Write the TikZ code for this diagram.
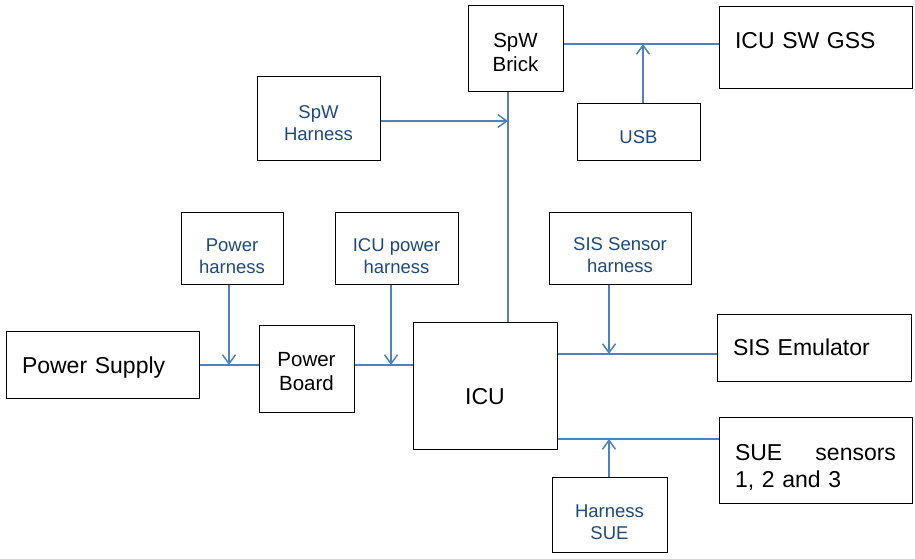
\documentclass[tikz,border=0pt]{standalone}
\usepackage{fontspec}
\setmainfont{Liberation Sans}
\usepackage{tikz}
\usetikzlibrary{arrows.meta, positioning, calc}
\definecolor{linkblue}{RGB}{79,129,189}
\definecolor{textblue}{RGB}{31,73,125}
\newcommand{\nudge}[2]{\raisebox{#1}[\height][\depth]{#2}}
\tikzset{every node/.append style={inner sep=0pt}}

\begin{document}
\begin{tikzpicture}[
    x=1pt, y=-1pt,
    blk/.style={rectangle, draw=black, line width=1pt, inner xsep=16pt,
        align=left, font=\fontsize{23}{27}\selectfont},
    brk/.style={rectangle, draw=black, line width=1pt, align=center,
        font=\fontsize{20.5}{24}\selectfont},
    hrn/.style={rectangle, draw=black, line width=1pt, align=center,
        text=textblue, font=\fontsize{18.5}{22}\selectfont},
    wire/.style={draw=linkblue, line width=1.5pt},
    feed/.style={wire, -{Straight Barb[length=9pt, width=13pt, line width=1.5pt]}}
]
\useasboundingbox (0,0) rectangle (915,559);
% ===== SPACEWIRE SIDE =====
\node[brk, minimum width=95, minimum height=86, text height=45.7pt] (brick) at (515.5,49)
    {SpW\\Brick};
\node[blk, minimum width=193, minimum height=82, text width=161] (gss) at (815.5,48)
    {\nudge{7pt}{ICU SW GSS}};
\node[hrn, minimum width=123, minimum height=83, text height=43.5pt] (spwh) at (318.5,118.5)
    {SpW\\Harness};
\node[hrn, minimum width=123, minimum height=56] (usb) at (638.5,132)
    {\nudge{-5pt}{USB}};
% ===== POWER CHAIN =====
\node[hrn, minimum width=102, minimum height=72, text height=51pt] (pwrh) at (232,248)
    {Power\\harness};
\node[hrn, minimum width=123, minimum height=72, text height=51pt] (icuph) at (396.5,248)
    {ICU power\\harness};
\node[blk, minimum width=193, minimum height=67, text width=161] (psu) at (102.5,364.5)
    {\nudge{-3pt}{Power Supply}};
\node[brk, minimum width=95, minimum height=87, text height=44.7pt] (pboard) at (306.5,368.5)
    {Power\\Board};
\node[brk, minimum width=144, minimum height=127, font=\fontsize{23}{27}\selectfont] (icu)
    at (485,385.5) {\nudge{-11pt}{ICU}};
% ===== SENSOR SIDE =====
\node[hrn, minimum width=142, minimum height=72, text height=50pt] (sish) at (620,248)
    {SIS Sensor\\harness};
\node[blk, minimum width=194, minimum height=67, text width=162] (sisemu) at (814,347.5)
    {SIS Emulator};
\node[blk, minimum width=193, minimum height=86, text width=161, text height=30pt] (sue)
    at (815.5,460) {SUE\hfill sensors\\1, 2 and 3};
\node[hrn, minimum width=115, minimum height=75, text height=49.5pt] (hsue) at (609.5,514.5)
    {Harness\\SUE};
% ===== JUNCTIONS =====
\coordinate (jusb)  at (643,44);
\coordinate (jspw)  at (508,121);
\coordinate (jpwr)  at (229,365);
\coordinate (jicup) at (391,365);
\coordinate (jsis)  at (609,354);
\coordinate (jsue)  at (609,439);
% ===== CONNECTIONS =====
\draw[wire] (brick.east |- jusb) -- (gss.west |- jusb);
\draw[feed] (usb.north -| jusb) -- (jusb);
\draw[wire] (brick.south -| jspw) -- (icu.north -| jspw);
\draw[feed] (spwh.east |- jspw) -- (jspw);
\draw[wire] (psu.east |- jpwr) -- (pboard.west |- jpwr);
\draw[feed] (pwrh.south -| jpwr) -- (jpwr);
\draw[wire] (pboard.east |- jicup) -- (icu.west |- jicup);
\draw[feed] (icuph.south -| jicup) -- (jicup);
\draw[wire] (icu.east |- jsis) -- (sisemu.west |- jsis);
\draw[feed] (sish.south -| jsis) -- (jsis);
\draw[wire] (icu.east |- jsue) -- (sue.west |- jsue);
\draw[feed] (hsue.north -| jsue) -- (jsue);
\end{tikzpicture}
\end{document}
